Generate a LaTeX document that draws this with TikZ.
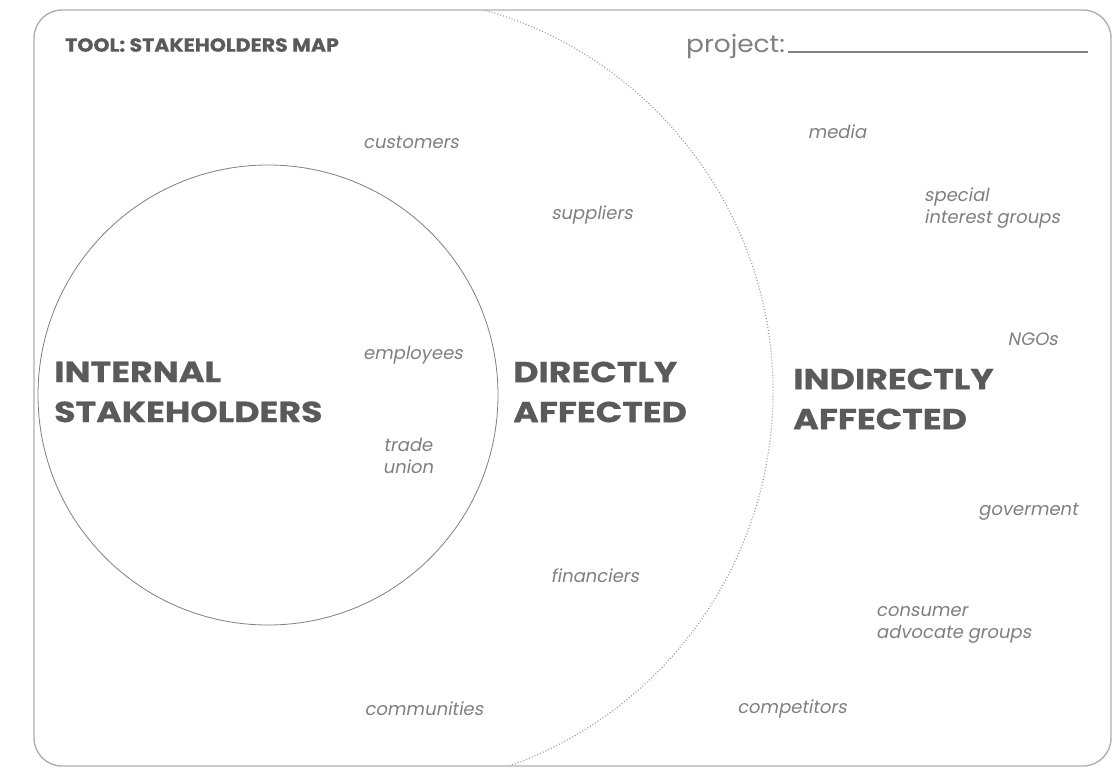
\documentclass[tikz,border=0pt]{standalone}
\usepackage{fontspec}
\setmainfont{Poppins}
\newfontfamily\itf[FakeSlant=0.18]{Poppins}
\newfontfamily\bigf[FakeStretch=1.2,FakeBold=0.6]{Poppins Bold}
\newfontfamily\titf[FakeStretch=1.08,FakeBold=0.5]{Poppins Bold}
\newfontfamily\projf[FakeStretch=1.1]{Poppins}
\definecolor{txt}{HTML}{5A5A5A}
\definecolor{lite}{HTML}{808080}
\definecolor{edge}{HTML}{B0B0B0}
\definecolor{dots}{HTML}{9A9A9A}
\tikzset{
  big/.style={font=\fontsize{29}{40}\selectfont\bigf, text=txt, align=left, inner sep=0pt},
  small/.style={font=\fontsize{18}{22}\selectfont\itf, text=lite, inner sep=0pt},
}
\begin{document}
\begin{tikzpicture}[x=1pt,y=-1pt]
\useasboundingbox (0,0) rectangle (1116,769);
\fill[white] (0,0) rectangle (1116,769);
% frame
\draw[edge, line width=1.4pt, rounded corners=28pt] (34,10) rectangle (1111,766);
% big dotted arc clipped to frame
\begin{scope}
  \clip[rounded corners=28pt] (34,10) rectangle (1111,766);
  \coordinate (bc) at (376,392);
  \draw[dots, line width=1.1pt, dash pattern=on 1pt off 2pt] ([shift={(-80:397)}]bc) arc[start angle=-80, end angle=80, radius=397];
\end{scope}
% inner circle
\draw[black!50, line width=0.8pt] (268,395) circle[radius=230];
% header
\node[font=\fontsize{19}{22}\selectfont\titf, text=txt, anchor=west, inner sep=0pt] (title) at (65,45) {TOOL: STAKEHOLDERS MAP};
\node[font=\fontsize{24}{28}\selectfont\projf, text=lite, anchor=west, inner sep=0pt] (proj) at (686,46) {project:};
\coordinate (ul) at ([xshift=3pt]proj.base east);
\coordinate (uend) at (1088,0);
\draw[lite, line width=1.3pt] (ul) -- (ul -| uend);
% big labels
\node[big, anchor=west] (internal) at (54,392) {INTERNAL\\STAKEHOLDERS};
\node[big, anchor=west] (direct) at (513,392) {DIRECTLY\\AFFECTED};
\node[big, anchor=west] (indirect) at (793,399) {INDIRECTLY\\AFFECTED};
% small labels
\node[small] (customers) at (411,142) {customers};
\node[small] (suppliers) at (592,215) {suppliers};
\node[small] (media) at (837,132) {media};
\node[small, align=left, anchor=west] (sig) at (924,208) {special\\interest groups};
\node[small, anchor=east] (ngo) at (1058,339) {NGOs};
\node[small] (employees) at (413,355) {employees};
\node[small, align=center] (trade) at (408,456) {trade\\union};
\node[small] (financiers) at (595,576) {financiers};
\node[small, anchor=east] (gov) at (1078,512) {goverment};
\node[small, align=left, anchor=west] (cag) at (876,625) {consumer\\advocate groups};
\node[small] (communities) at (424,709) {communities};
\node[small] (competitors) at (792,709) {competitors};
\end{tikzpicture}
\end{document}
